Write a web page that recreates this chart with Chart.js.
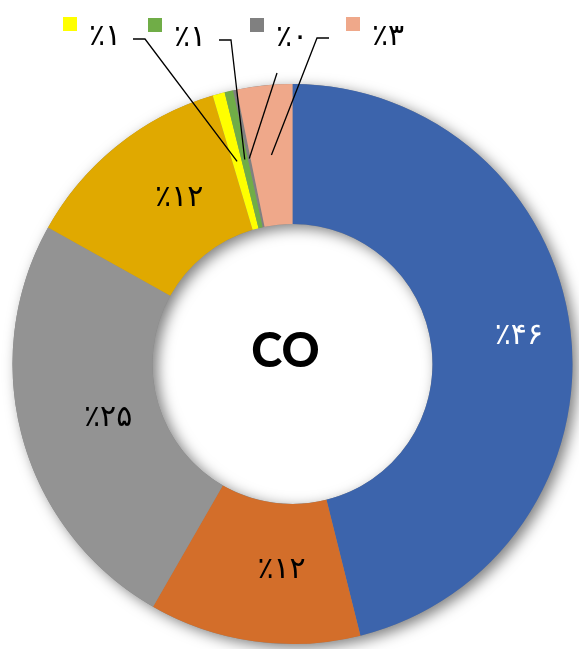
<!DOCTYPE html>
<html lang="fa">
<head>
  <meta charset="UTF-8">
  <title>CO</title>
  <script src="https://cdn.jsdelivr.net/npm/chart.js"></script>
  <style>
    html, body { margin: 0; padding: 0; background: #fff; }
    #wrap { width: 579px; height: 649px; position: relative; }
  </style>
</head>
<body>
  <div id="wrap"><canvas id="chartCanvas"></canvas></div>

  <script>
    // داده‌ها
    const sliceNames = ['s1', 's2', 's3', 's4', 's5', 's6', 's7', 's8'];
    const values = [46.1, 12.2, 24.8, 12.3, 0.7, 0.5, 0.2, 3.2];
    const valueLabels = ['٪۴۶', '٪۱۲', '٪۲۵', '٪۱۲', '٪۱', '٪۱', '٪۰', '٪۳'];
    const centerTitle = 'CO';

    const colors = ['#3C64AC', '#D36E2A', '#939393', '#E0A900', '#FFFF00', '#70AD47', '#808080', '#EFA88A'];
    const labelColors = ['#fff', '#000', '#000', '#000'];

    // سایه حلقه
    const ringShadow = {
      id: 'ringShadow',
      beforeDatasetsDraw(chart) {
        const arc = chart.getDatasetMeta(0).data[0];
        if (!arc) return;
        const { x, y, innerRadius, outerRadius } = arc.getProps(['x', 'y', 'innerRadius', 'outerRadius'], true);
        const ctx = chart.ctx;
        ctx.save();
        ctx.shadowColor = 'rgba(0,0,0,0.5)';
        ctx.shadowBlur = 14;
        ctx.shadowOffsetX = 5;
        ctx.shadowOffsetY = 4;
        ctx.beginPath();
        ctx.arc(x, y, outerRadius, 0, Math.PI * 2);
        ctx.arc(x, y, innerRadius, Math.PI * 2, 0, true);
        ctx.fillStyle = '#888';
        ctx.fill('evenodd');
        ctx.restore();
      }
    };

    // برچسب‌ها
    const sliceLabels = {
      id: 'sliceLabels',
      afterDatasetsDraw(chart, args, opts) {
        const ctx = chart.ctx;
        const meta = chart.getDatasetMeta(0);
        ctx.save();
        ctx.direction = 'ltr';
        ctx.font = opts.font;
        ctx.textAlign = 'center';
        ctx.textBaseline = 'middle';
        meta.data.forEach((arc, i) => {
          if (i > 3) return;
          const p = arc.tooltipPosition(true);
          ctx.fillStyle = labelColors[i];
          ctx.fillText(valueLabels[i], p.x + opts.shift.x, p.y + opts.shift.y);
        });

        // برچسب‌های بالای نمودار با خط راهنما
        opts.callouts.forEach(c => {
          const arc = meta.data[c.index];
          const end = arc.tooltipPosition(true);
          ctx.fillStyle = colors[c.index];
          ctx.fillRect(c.x, c.y, 14, 14);
          ctx.fillStyle = '#000';
          ctx.textAlign = 'left';
          ctx.fillText(valueLabels[c.index], c.x + 26, c.y + 20);
          ctx.beginPath();
          ctx.strokeStyle = '#000';
          ctx.lineWidth = 1.3;
          ctx.moveTo(c.path[0][0], c.path[0][1]);
          c.path.slice(1).forEach(pt => ctx.lineTo(pt[0], pt[1]));
          ctx.lineTo(end.x, end.y);
          ctx.stroke();
        });

        // عنوان وسط
        const a0 = meta.data[0];
        ctx.font = opts.titleFont;
        ctx.textAlign = 'center';
        ctx.fillStyle = '#000';
        ctx.fillText(centerTitle, a0.x + opts.titleShift.x, a0.y + opts.titleShift.y);
        ctx.restore();
      }
    };

    new Chart(document.getElementById('chartCanvas'), {
      type: 'doughnut',
      data: {
        labels: sliceNames,
        datasets: [{
          data: values,
          backgroundColor: colors,
          borderWidth: 0,
          hoverOffset: 0
        }]
      },
      options: {
        responsive: true,
        maintainAspectRatio: false,
        animation: false,
        cutout: '50%',
        layout: { padding: { left: 12, right: 6, top: 84, bottom: 5 } },
        plugins: {
          legend: { display: false },
          tooltip: { enabled: false },
          sliceLabels: {
            font: '30px "DejaVu Sans"',
            titleFont: '900 47px Lato',
            shift: { x: 18, y: -2 },
            titleShift: { x: -7, y: -12 },
            callouts: [
              { index: 4, x: 63, y: 17, path: [[133, 39], [145, 39]] },
              { index: 5, x: 148, y: 18, path: [[219, 40], [231, 40]] },
              { index: 6, x: 250, y: 18, path: [[277, 73]] },
              { index: 7, x: 346, y: 17, path: [[329, 38], [317, 38]] }
            ]
          }
        }
      },
      plugins: [ringShadow, sliceLabels]
    });
  </script>
</body>
</html>
